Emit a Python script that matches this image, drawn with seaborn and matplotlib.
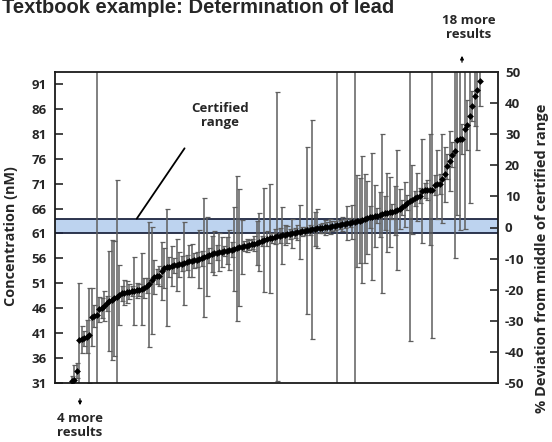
import numpy as np
import matplotlib
matplotlib.use('Agg')
import matplotlib.pyplot as plt
import seaborn as sns

# Lab results, sorted ascending (nM), and their error bars (nM)
conc = [31.5, 31.7, 33.5, 39.6, 39.8, 40.0, 40.3, 40.6, 44.2, 44.4,
        44.6, 45.8, 46.0, 46.5, 47.0, 47.4, 47.7, 48.0, 48.3, 48.6,
        49.0, 49.1, 49.2, 49.3, 49.4, 49.5, 49.6, 49.7, 49.9, 50.1,
        50.5, 50.8, 51.6, 52.3, 52.4, 52.5, 53.5, 54.0, 54.2, 54.3,
        54.5, 54.6, 54.7, 54.8, 54.9, 55.0, 55.2, 55.4, 55.5, 55.6,
        55.7, 55.8, 56.0, 56.2, 56.4, 56.6, 56.8, 57.0, 57.1, 57.2,
        57.3, 57.4, 57.5, 57.6, 57.7, 57.9, 58.0, 58.2, 58.3, 58.4,
        58.5, 58.7, 58.8, 58.9, 59.1, 59.3, 59.5, 59.7, 59.9, 60.0,
        60.1, 60.3, 60.4, 60.5, 60.6, 60.7, 60.8, 60.9, 61.0, 61.1,
        61.2, 61.3, 61.4, 61.5, 61.6, 61.7, 61.8, 61.9, 62.0, 62.0,
        62.1, 62.2, 62.3, 62.4, 62.5, 62.6, 62.7, 62.8, 62.9, 63.0,
        63.1, 63.2, 63.3, 63.4, 63.5, 63.6, 63.8, 64.0, 64.2, 64.3,
        64.4, 64.5, 64.6, 64.8, 65.0, 65.1, 65.2, 65.3, 65.4, 65.6,
        65.7, 65.9, 66.3, 66.8, 67.2, 67.5, 67.8, 68.1, 68.3, 68.6,
        69.5, 69.7, 69.7, 69.8, 69.8, 70.8, 70.9, 71.0, 72.0, 72.9,
        74.5, 75.5, 76.8, 77.6, 79.8, 79.9, 80.0, 81.9, 82.8, 84.5,
        86.5, 88.5, 89.8, 91.5]

err = [1.0, 3.0, 1.5, 11.5, 2.7, 1.5, 3.3, 9.5, 5.8, 2.2,
       60.0, 2.5, 2.0, 3.0, 1.5, 10.0, 12.0, 11.5, 23.5, 6.0,
       1.5, 2.5, 2.2, 1.5, 1.0, 6.8, 1.5, 1.2, 7.2, 2.0,
       1.5, 12.5, 10.7, 3.4, 1.5, 2.0, 5.8, 4.0, 11.8, 2.0,
       4.0, 1.5, 5.2, 2.5, 1.5, 8.3, 1.5, 3.2, 3.3, 1.5,
       1.5, 5.8, 1.5, 11.9, 8.0, 1.5, 3.6, 4.4, 1.5, 3.8,
       3.0, 1.0, 2.7, 4.0, 1.5, 8.5, 14.5, 11.8, 5.5, 1.0,
       1.3, 1.0, 1.0, 1.5, 4.4, 5.8, 1.0, 10.5, 1.5, 11.0,
       1.0, 1.5, 29.0, 1.5, 5.8, 2.0, 1.8, 1.0, 3.0, 1.0,
       1.5, 5.5, 1.0, 0.8, 16.8, 1.0, 22.0, 3.5, 4.0, 1.0,
       1.0, 1.5, 1.0, 1.5, 1.0, 1.0, 45.0, 1.0, 1.5, 1.0,
       3.4, 1.0, 3.5, 45.0, 9.3, 8.5, 12.8, 9.0, 7.4, 2.3,
       12.8, 6.3, 1.5, 4.5, 16.0, 3.4, 8.0, 7.0, 1.5, 5.0,
       12.0, 4.0, 1.5, 4.5, 1.5, 28.0, 7.0, 1.5, 4.8, 1.5,
       10.4, 1.5, 2.0, 11.1, 29.7, 2.0, 6.9, 2.0, 8.9, 5.5,
       2.5, 6.0, 2.5, 21.6, 15.1, 18.3, 3.0, 20.0, 5.0, 17.3,
       3.0, 6.0, 12.0, 5.0]

cert_low = 61.0
cert_high = 63.9

conc_ticks = [31, 36, 41, 46, 51, 56, 61, 66, 71, 76, 81, 86, 91]
dev_ticks = [-50, -40, -30, -20, -10, 0, 10, 20, 30, 40, 50]

sns.set_style('white')
plt.rcParams['font.family'] = ['Open Sans', 'DejaVu Sans']
plt.rcParams['font.weight'] = 'bold'

fig = plt.figure(figsize=(5.52, 4.42), dpi=100)
ax = fig.add_axes([55 / 552, 1 - 383 / 442, 443 / 552, 311 / 442])

idx = np.arange(len(conc))

# certified range band
ax.axhspan(cert_low, cert_high, color='#bdd3ef', zorder=0, lw=0)
ax.axhline(cert_low, color='#1e2640', lw=1.3, zorder=1)
ax.axhline(cert_high, color='#1e2640', lw=1.3, zorder=1)

eb = ax.errorbar(idx, conc, yerr=err, fmt='none', ecolor='#5e5e5e',
                 elinewidth=1.1, capsize=1.8, capthick=0.9, zorder=2)
for cap in eb[1]:
    cap.set_color('#2e2e2e')

sns.scatterplot(x=idx, y=conc, ax=ax, marker='D', s=12, color='black',
                linewidth=0, zorder=4, legend=False)

spacing = 2.503
ax.set_xlim(-(72 - 55) / spacing, len(conc) - 1 + (498 - 479.5) / spacing)
ax.set_ylim(31, 93.4)
ax.set_xticks([])
ax.set_yticks(conc_ticks)
ax.set_yticklabels([str(t) for t in conc_ticks], fontweight='bold')
ax.tick_params(axis='y', direction='in', length=6, width=1.2, pad=6,
               labelsize=9.5, left=True)
ax.set_ylabel('Concentration (nM)', fontsize=10.4, fontweight='bold')
ax.yaxis.set_label_coords(-0.084, 0.473)
for s in ax.spines.values():
    s.set_color('#1a1a1a')
    s.set_linewidth(1.3)

ax2 = ax.twinx()
ax2.set_ylim(-50, 50)
ax2.set_yticks(dev_ticks)
ax2.set_yticklabels([str(t) for t in dev_ticks], fontweight='bold')
ax2.tick_params(axis='y', direction='in', length=6, width=1.2, pad=5,
                labelsize=9.5, right=True)
ax2.set_ylabel('% Deviation from middle of certified range', fontsize=10.5,
               fontweight='bold')
ax2.yaxis.set_label_coords(1.083, 0.40)
for s in ax2.spines.values():
    s.set_visible(False)

# annotations
ax.text(0.372, 0.86, 'Certified\nrange', transform=ax.transAxes, ha='center',
        va='center', fontsize=9.5, fontweight='bold', linespacing=1.1)
ax.annotate('', xy=(0.181, 0.521), xytext=(0.296, 0.762),
            xycoords='axes fraction', textcoords='axes fraction',
            arrowprops=dict(arrowstyle='-', color='black', lw=1.3))

fig.text(469 / 552, 1 - 28 / 442, '18 more\nresults', ha='center', va='center',
         fontsize=9.5, fontweight='bold', linespacing=1.1)
fig.add_artist(matplotlib.patches.FancyArrowPatch(
    (462 / 552, 1 - 65 / 442), (462 / 552, 1 - 53 / 442),
    transform=fig.transFigure, arrowstyle='-|>', mutation_scale=5,
    color='black', lw=0.9))

fig.text(80 / 552, 1 - 426 / 442, '4 more\nresults', ha='center', va='center',
         fontsize=9.5, fontweight='bold', linespacing=1.1)
fig.add_artist(matplotlib.patches.FancyArrowPatch(
    (80 / 552, 1 - 396 / 442), (80 / 552, 1 - 408 / 442),
    transform=fig.transFigure, arrowstyle='-|>', mutation_scale=5,
    color='black', lw=0.9))

fig.text(0.004, 1 - 13 / 442, 'Textbook example: Determination of lead',
         ha='left', va='baseline', fontsize=14.5, fontweight='bold',
         family=['Liberation Sans', 'DejaVu Sans'])

fig.savefig('out.png', dpi=100)
